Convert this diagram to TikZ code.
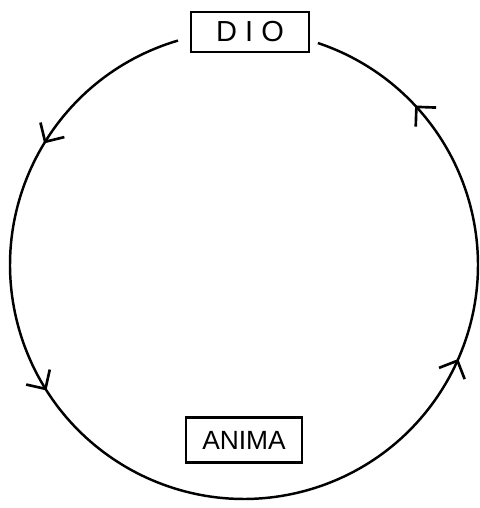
\documentclass[tikz,border=0pt]{standalone}
\usepackage{fontspec}
\setmainfont{Liberation Sans}
\usetikzlibrary{arrows.meta,decorations.markings}

\tikzset{
  barb/.tip={Straight Barb[length=0.28cm,width=0.56cm,line width=1.5pt]},
  labelbox/.style={draw, line width=1.4pt, inner sep=0pt, minimum height=0.8cm,
    font=\fontsize{15}{18}\selectfont},
  cycleflow/.style={line width=1.4pt, postaction={decorate}, decoration={markings,
    mark=at position 0.130 with {\arrow{barb}},
    mark=at position 0.326 with {\arrow{barb}},
    mark=at position 0.707 with {\arrow{barb}},
    mark=at position 0.912 with {\arrow{barb}}}}
}

\begin{document}
\begin{tikzpicture}[x=0.02cm,y=0.02cm]
\useasboundingbox (0,0) rectangle (480,508);
\coordinate (centre) at (244,243);

% the cycle
\draw[cycleflow] ([shift={(106.4:4.68cm)}]centre)
  arc[start angle=106.4, end angle=431.6, radius=4.68cm];

% labels
\node[labelbox, minimum width=2.36cm, font=\fontsize{16.5}{19}\selectfont] (dio) at (250,476) {D I O};
\node[labelbox, minimum width=2.32cm, minimum height=0.9cm] (anima) at (244,68) {ANIMA};
\end{tikzpicture}
\end{document}
